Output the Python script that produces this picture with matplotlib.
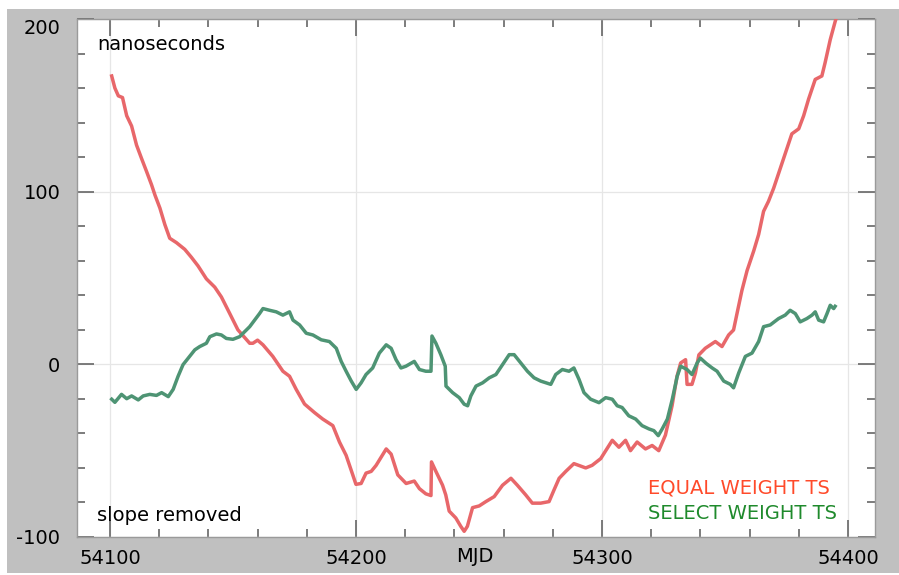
import matplotlib.pyplot as plt
from matplotlib.patches import Rectangle
from matplotlib.ticker import MultipleLocator

plt.rcParams['axes.unicode_minus'] = False

# MJD / nanoseconds
equal_mjd = [54100.7, 54102, 54103.4, 54105.1, 54106.8, 54108.8, 54110.8, 54112.9, 54114.9,
             54116.9, 54118.3, 54120.3, 54122.3, 54124.3, 54127, 54130.4, 54133.1, 54135.8,
             54139.2, 54142.6, 54145.3, 54148.7, 54152, 54156.8, 54158.1, 54160, 54162.2,
             54166.2, 54170.3, 54173, 54175.7, 54179.1, 54183.2, 54186.5, 54190.6, 54193.3,
             54196, 54198.7, 54200, 54202.1, 54204.1, 54206.2, 54208.2, 54212.3, 54214.3,
             54217, 54220.4, 54223.7, 54225.8, 54228.4, 54230.5, 54230.7, 54232.5, 54235.2,
             54236.5, 54237.9, 54240.6, 54242.6, 54244, 54245.3, 54247.4, 54250.1, 54252.8,
             54256.2, 54259.6, 54263, 54265.6, 54269, 54271.7, 54275.1, 54278.5, 54280.5,
             54282.6, 54285.3, 54288.6, 54293.4, 54296, 54299.5, 54304.2, 54306.9, 54309.6,
             54311.6, 54314.3, 54317.7, 54320.4, 54323.1, 54325.8, 54328.5, 54330.5, 54332,
             54334, 54334.6, 54336.6, 54338, 54339.4, 54342, 54346.1, 54348.8, 54351.5,
             54353.5, 54354.9, 54356.9, 54359, 54361.7, 54363.7, 54365.7, 54367.7, 54369.8,
             54372.5, 54375.2, 54377.2, 54380, 54382, 54384, 54386.7, 54389.4, 54390.7,
             54392.8, 54394.8, 54396]
equal_ns = [167, 160, 155.5, 154.5, 144, 138, 127, 119, 111.6,
            104, 98, 90.5, 81, 73, 70.5, 66.6, 62, 57,
            49.5, 44.7, 39, 29.4, 20, 12.2, 12.2, 14, 11.3,
            4.6, -4, -6.9, -14.5, -23, -28, -31.7, -35.5, -45,
            -52.7, -64, -69.5, -69, -63, -62, -58.5, -49, -52,
            -64, -69, -67.6, -72, -75, -76, -56.5, -62, -70,
            -75.6, -85, -89, -93.8, -96.7, -93.8, -83, -82, -79.5,
            -76.6, -70, -66, -70, -75.6, -80.4, -80.4, -79.5, -72.8,
            -66, -62, -57.5, -60, -58.5, -54.6, -44, -48, -44,
            -50, -45, -49, -47, -50, -41, -24, -7, 0.8,
            2.7, -11.6, -11.6, -5, 5.5, 9.3, 13.2, 10.3, 17,
            19.9, 29.4, 42.8, 54.3, 65.7, 75.2, 88.6, 94.4, 102,
            113.5, 125, 133.5, 136.4, 144, 153.6, 165, 167, 174.6,
            188, 198.5, 204]

select_mjd = [54100.7, 54102, 54104.7, 54106.8, 54108.8, 54111.5, 54113.5, 54116.2, 54118.9,
              54121, 54123.7, 54125.7, 54127.7, 54129.7, 54131.8, 54134.5, 54136.5, 54139.2,
              54140.6, 54143.3, 54145.3, 54147.3, 54150, 54152.7, 54156.8, 54160.8, 54162.2,
              54164.9, 54167.6, 54170.3, 54173, 54174.4, 54177.1, 54179.8, 54182.5, 54185.9,
              54189.2, 54192, 54194, 54196, 54198.1, 54200.1, 54202.1, 54204.1, 54206.8,
              54209.5, 54212.3, 54214.3, 54216.3, 54218.3, 54220.3, 54223.7, 54225.8, 54228.4,
              54230.5, 54230.9, 54232.5, 54234.5, 54236.3, 54236.6, 54239.3, 54242, 54244,
              54245.4, 54246.7, 54248.8, 54251.5, 54254.2, 54256.9, 54259.6, 54262.3, 54264.3,
              54267, 54269.7, 54272.4, 54275.1, 54279.2, 54281.2, 54283.9, 54286.6, 54288.6,
              54290.7, 54292.7, 54295.4, 54298.8, 54301.5, 54304.2, 54306.2, 54308.2, 54310.9,
              54313.7, 54316.3, 54319.1, 54321.1, 54322.9, 54324.5, 54326.6, 54328.6, 54330.6,
              54332, 54334.6, 54336.6, 54338.7, 54340, 54342.4, 54344.8, 54346.8, 54349.5,
              54352.2, 54353.5, 54355.6, 54358.3, 54361, 54363.7, 54365.7, 54368.4, 54371.8,
              54374.5, 54376.5, 54378.6, 54380.6, 54383.3, 54385.4, 54386.7, 54388.1, 54390.1,
              54391.5, 54392.8, 54394.2, 54394.8]
select_ns = [-20.2, -22, -17.4, -19.9, -18.3, -20.6, -18.3, -17.4, -18,
             -16.4, -18.7, -14.5, -6.9, -0.2, 3.6, 8.4, 10.3, 12.2,
             16, 17.6, 17, 15, 14.5, 16, 21.8, 29.4, 32.3,
             31.3, 30.4, 28.5, 30.4, 25.6, 22.8, 18, 17, 14.2,
             13.2, 9.3, 1.7, -4, -9.7, -14.5, -10.7, -5.9, -2.1,
             6.5, 11.3, 9.3, 2.7, -2.1, -1.1, 1.7, -3, -4,
             -4, 16.4, 12.2, 5.6, -1.1, -12.6, -16.4, -19.3, -23.1,
             -24, -18.3, -12.6, -10.7, -7.8, -5.9, -0.2, 5.6, 5.6,
             0.8, -4, -7.8, -9.7, -11.6, -5.9, -3, -4, -2.1,
             -8.8, -16.4, -20.2, -22.2, -19.3, -20.2, -24, -25, -29.8,
             -31.7, -35.5, -37.4, -38.4, -41.3, -37.4, -31.7, -20.2, -6.9,
             -1.1, -3, -5.9, 0.8, 3.6, 0.5, -2.1, -4, -9.7,
             -11.6, -13.6, -5, 4.6, 6.5, 13.2, 21.8, 22.8, 26.5,
             28.5, 31.3, 29.4, 24.6, 26.5, 28.5, 30.4, 25.6, 24.6,
             29.4, 34.2, 32.3, 33.6]

x_ticks = [54100, 54200, 54300, 54400]
y_ticks = [-100, 0, 100, 200]

fig = plt.figure(figsize=(8.99, 5.75), dpi=100, facecolor='white')
# gray frame behind the plot
fig.patches.append(Rectangle((7 / 899, 2 / 575), 1, 1 - 11 / 575, transform=fig.transFigure,
                             facecolor='#c0c0c0', edgecolor='none', zorder=-10))

ax = fig.add_axes([77 / 899, 38 / 575, 798 / 899, 518 / 575])
ax.set_facecolor('white')

ax.plot(equal_mjd, equal_ns, color='#e8676a', lw=2.5, zorder=3)
ax.plot(select_mjd, select_ns, color='#4e9474', lw=2.5, zorder=3)

ax.set_xlim(54086.6, 54411)
ax.set_ylim(-100, 200)
ax.set_xticks(x_ticks)
ax.set_yticks(y_ticks)
ax.xaxis.set_minor_locator(MultipleLocator(20))
ax.yaxis.set_minor_locator(MultipleLocator(20))
ax.grid(True, which='major', color='#e6e6e6', lw=0.9, zorder=0)

ax.tick_params(which='both', direction='in', top=True, right=True, color='#666666', width=1.2)
ax.tick_params(which='major', length=12, labelsize=14)
ax.tick_params(which='minor', length=6)
ax.tick_params(axis='y', pad=12)
ax.tick_params(axis='x', pad=9)
for s in ax.spines.values():
    s.set_color('#9a9a9a')
    s.set_linewidth(1.0)
ax.get_yticklabels()[-1].set_verticalalignment('top')

ax.text(0.025, 0.95, 'nanoseconds', transform=ax.transAxes, fontsize=14, va='center')
ax.text(0.025, 0.042, 'slope removed', transform=ax.transAxes, fontsize=14, va='center')
ax.text(0.7155, 0.0946, 'EQUAL WEIGHT TS', transform=ax.transAxes, fontsize=14, va='center',
        color='#ff4a2a')
ax.text(0.7155, 0.0463, 'SELECT WEIGHT TS', transform=ax.transAxes, fontsize=14, va='center',
        color='#1f8a2c')
fig.text(475 / 899, 1 - 556 / 575, 'MJD', fontsize=14, ha='center', va='center')

fig.savefig('out.png', dpi=100, facecolor=fig.get_facecolor())
